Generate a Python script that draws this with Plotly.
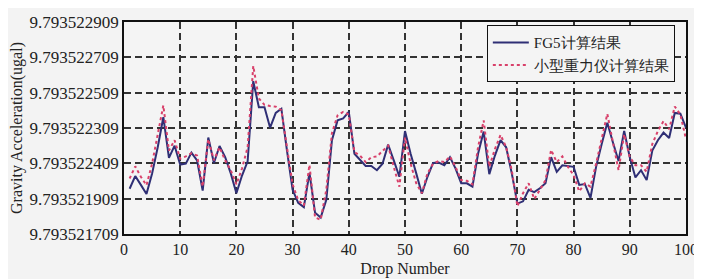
import plotly.graph_objects as go

drops = list(range(1, 101))

fg5 = [
    9.793521965, 9.793522037, 9.793521987, 9.793521935, 9.793522052, 9.793522200, 9.793522370, 9.793522140, 9.793522209, 9.793522102,
    9.793522107, 9.793522170, 9.793522126, 9.793521955, 9.793522255, 9.793522111, 9.793522207, 9.793522144, 9.793522052, 9.793521940,
    9.793522040, 9.793522120, 9.793522574, 9.793522426, 9.793522426, 9.793522311, 9.793522394, 9.793522418, 9.793522181, 9.793521959,
    9.793521885, 9.793521861, 9.793522055, 9.793521829, 9.793521802, 9.793521903, 9.793522240, 9.793522352, 9.793522363, 9.793522400,
    9.793522163, 9.793522126, 9.793522094, 9.793522094, 9.793522070, 9.793522107, 9.793522215, 9.793522126, 9.793522033, 9.793522292,
    9.793522163, 9.793522052, 9.793521937, 9.793522033, 9.793522111, 9.793522113, 9.793522098, 9.793522144, 9.793522079, 9.793521996,
    9.793521996, 9.793521977, 9.793522163, 9.793522289, 9.793522048, 9.793522153, 9.793522240, 9.793522200, 9.793522052, 9.793521881,
    9.793521894, 9.793521959, 9.793521946, 9.793521968, 9.793521996, 9.793522144, 9.793522061, 9.793522098, 9.793522092, 9.793522089,
    9.793521987, 9.793521992, 9.793521913, 9.793522089, 9.793522218, 9.793522339, 9.793522227, 9.793522122, 9.793522292, 9.793522144,
    9.793522029, 9.793522070, 9.793522014, 9.793522181, 9.793522240, 9.793522283, 9.793522252, 9.793522394, 9.793522390, 9.793522311,
]

mini = [
    9.793522023, 9.793522092, 9.793522033, 9.793521985, 9.793522107, 9.793522274, 9.793522437, 9.793522181, 9.793522240, 9.793522135,
    9.793522148, 9.793522166, 9.793522153, 9.793521977, 9.793522246, 9.793522126, 9.793522200, 9.793522126, 9.793522070, 9.793521990,
    9.793522080, 9.793522200, 9.793522660, 9.793522476, 9.793522440, 9.793522433, 9.793522430, 9.793522410, 9.793522200, 9.793521990,
    9.793521900, 9.793521870, 9.793522100, 9.793521802, 9.793521790, 9.793521960, 9.793522280, 9.793522380, 9.793522400, 9.793522385,
    9.793522172, 9.793522153, 9.793522116, 9.793522144, 9.793522148, 9.793522181, 9.793522209, 9.793522089, 9.793521977, 9.793522255,
    9.793522107, 9.793521996, 9.793521940, 9.793522052, 9.793522107, 9.793522122, 9.793522116, 9.793522148, 9.793522089, 9.793522014,
    9.793522010, 9.793521990, 9.793522200, 9.793522352, 9.793522089, 9.793522190, 9.793522270, 9.793522200, 9.793522070, 9.793521866,
    9.793521940, 9.793521996, 9.793521907, 9.793521959, 9.793522014, 9.793522185, 9.793522116, 9.793522148, 9.793522089, 9.793522042,
    9.793521950, 9.793521996, 9.793521977, 9.793522107, 9.793522246, 9.793522389, 9.793522227, 9.793522070, 9.793522274, 9.793522144,
    9.793522098, 9.793522098, 9.793522061, 9.793522218, 9.793522292, 9.793522348, 9.793522302, 9.793522431, 9.793522385, 9.793522246,
]

y_tickvals = [9.793521709, 9.793521909, 9.793522109, 9.793522309, 9.793522509, 9.793522709, 9.793522909]
y_ticktext = ["9.793521709", "9.793521909", "9.793522409", "9.793522309", "9.793522509", "9.793522709", "9.793522909"]
x_tickvals = [0, 10, 20, 30, 40, 50, 60, 70, 80, 90, 100]

serif = "Times New Roman"

fig = go.Figure()
fig.add_trace(go.Scatter(x=drops, y=fg5, mode="lines", name="FG5计算结果",
                         line=dict(color="#2f2f75", width=2)))
fig.add_trace(go.Scatter(x=drops, y=mini, mode="lines", name="小型重力仪计算结果",
                         line=dict(color="#d8406a", width=2, dash="dot")))

fig.update_layout(
    width=702, height=279,
    margin=dict(l=116, r=16, t=13, b=51),
    paper_bgcolor="#f3f3f3",
    plot_bgcolor="#f4f4f4",
    font=dict(family=serif, size=16, color="#222222"),
    legend=dict(x=0.6456, y=0.985, xanchor="left", yanchor="top",
                bgcolor="#f4f4f4", bordercolor="#111111", borderwidth=1,
                font=dict(family=serif, size=15, color="#222222"),
                tracegroupgap=0, itemwidth=36),
    showlegend=True,
)
fig.update_xaxes(
    range=[0, 100], tickvals=x_tickvals, ticks="",
    showline=True, linecolor="#111111", linewidth=1.5, mirror=True,
    showgrid=True, gridcolor="#333333", griddash="7px,4px", gridwidth=1.6,
    zeroline=False,
    title=dict(text="Drop Number", font=dict(family=serif, size=16), standoff=6),
    tickfont=dict(family=serif, size=16),
)
fig.update_yaxes(
    range=[9.793521709, 9.793522909], tickvals=y_tickvals, ticktext=y_ticktext, ticks="",
    showline=True, linecolor="#111111", linewidth=1.5, mirror=True,
    showgrid=True, gridcolor="#333333", griddash="7px,4px", gridwidth=1.6,
    zeroline=False, automargin=False,
    title=dict(text="Gravity Acceleration(ugal)", font=dict(family=serif, size=16), standoff=4),
    tickfont=dict(family=serif, size=17),
)

fig.write_html("out.html")
